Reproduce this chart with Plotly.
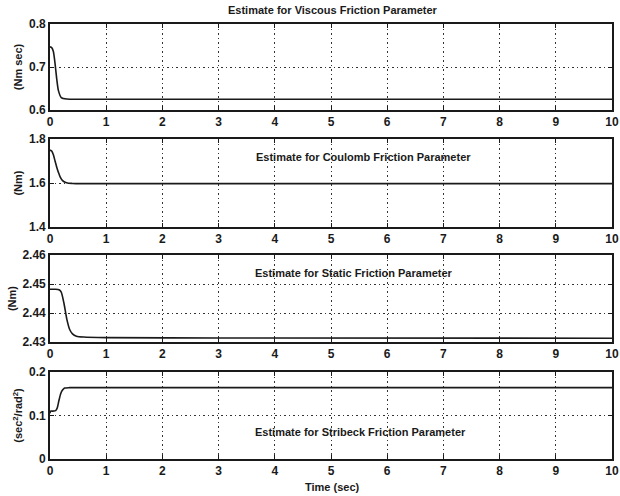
import plotly.graph_objects as go

# ---- data ----
t_visc = [0, 0.03, 0.06, 0.09, 0.12, 0.15, 0.2, 0.3, 0.5, 1, 10]
v_visc = [0.747, 0.745, 0.736, 0.708, 0.672, 0.645, 0.629, 0.6255, 0.625, 0.625, 0.625]

t_coul = [0, 0.03, 0.06, 0.09, 0.12, 0.15, 0.18, 0.22, 0.27, 0.33, 0.4, 0.5, 10]
v_coul = [1.75, 1.745, 1.728, 1.70, 1.672, 1.648, 1.628, 1.612, 1.603, 1.599, 1.598, 1.597, 1.597]

t_stat = [0, 0.1, 0.16, 0.2, 0.25, 0.3, 0.35, 0.4, 0.47, 0.6, 1, 3, 10]
v_stat = [2.4482, 2.4482, 2.448, 2.4472, 2.4432, 2.4378, 2.4343, 2.4328, 2.432, 2.4317, 2.4315, 2.4314, 2.4313]

t_strb = [0, 0.01, 0.05, 0.1, 0.13, 0.16, 0.19, 0.22, 0.26, 0.35, 10]
v_strb = [0.105, 0.11, 0.11, 0.111, 0.118, 0.135, 0.15, 0.158, 0.163, 0.164, 0.164]

x_ticks = list(range(0, 11))
y_ranges = [[0.6, 0.8], [1.4, 1.8], [2.43, 2.46], [0, 0.2]]
y_tickvals = [[0.6, 0.7, 0.8], [1.4, 1.6, 1.8], [2.43, 2.44, 2.45, 2.46], [0, 0.1, 0.2]]
y_ticktext = [["0.6", "0.7", "0.8"], ["1.4", "1.6", "1.8"],
              ["2.43", "2.44", "2.45", "2.46"], ["0", "0.1", "0.2"]]
y_titles = ["(Nm sec)", "(Nm)", "(Nm)", "(sec<sup>2</sup>/rad<sup>2</sup>)"]
titles = ["Estimate for Viscous Friction Parameter",
          "Estimate for Coulomb Friction Parameter",
          "Estimate for Static Friction Parameter",
          "Estimate for Stribeck Friction Parameter"]

series = [(t_visc, v_visc), (t_coul, v_coul), (t_stat, v_stat), (t_strb, v_strb)]

W, H = 620, 496
px_rows = [(24, 110), (139, 227), (255, 342), (372, 459)]
x_dom = [50 / W, 612 / W]

FONT = "Liberation Sans, Arial, sans-serif"
INK = "#1a1a1a"

fig = go.Figure()
layout = dict(
    width=W, height=H, margin=dict(l=0, r=0, t=0, b=0, autoexpand=False),
    paper_bgcolor="white", plot_bgcolor="white", showlegend=False,
    font=dict(family=FONT, color=INK, size=12),
)

for i, ((tx, vy), (top, bot)) in enumerate(zip(series, px_rows)):
    n = i + 1
    xa = "x" if n == 1 else f"x{n}"
    ya = "y" if n == 1 else f"y{n}"
    fig.add_trace(go.Scatter(x=tx, y=vy, mode="lines", xaxis=xa, yaxis=ya,
                             line=dict(color=INK, width=1.6, shape="spline", smoothing=0.6)))
    common = dict(showline=True, linecolor=INK, linewidth=1.6, mirror="ticks",
                  ticks="inside", ticklen=4, tickwidth=1.2, tickcolor=INK,
                  showgrid=True, gridcolor="#333", griddash="1.5px,3px", gridwidth=1.2,
                  zeroline=False, automargin=False,
                  tickfont=dict(family=FONT, size=12, color=INK, weight="bold"))
    layout["xaxis" if n == 1 else f"xaxis{n}"] = dict(
        domain=x_dom, anchor=ya, range=[0, 10], tickvals=x_ticks,
        ticktext=[str(v) for v in x_ticks], **common)
    layout["yaxis" if n == 1 else f"yaxis{n}"] = dict(
        domain=[1 - bot / H, 1 - top / H], anchor=xa, range=y_ranges[i],
        tickvals=y_tickvals[i], ticktext=y_ticktext[i],
        title=dict(text=y_titles[i], standoff=4,
                   font=dict(family=FONT, size=11, color=INK, weight="bold")),
        **common)

title_pos = [(333, 10), (363, 157), (354, 273), (360, 432)]
ann = []
for txt, (cx, cy) in zip(titles, title_pos):
    ann.append(dict(text=txt, x=cx / W, y=1 - cy / H, xref="paper", yref="paper",
                    showarrow=False, xanchor="center", yanchor="middle",
                    font=dict(family=FONT, size=11, color=INK, weight="bold")))
ann.append(dict(text="Time (sec)", x=332 / W, y=1 - 487 / H, xref="paper", yref="paper",
                showarrow=False, xanchor="center", yanchor="middle",
                font=dict(family=FONT, size=11, color=INK, weight="bold")))
layout["annotations"] = ann

fig.update_layout(**layout)
fig.write_html("out.html")
